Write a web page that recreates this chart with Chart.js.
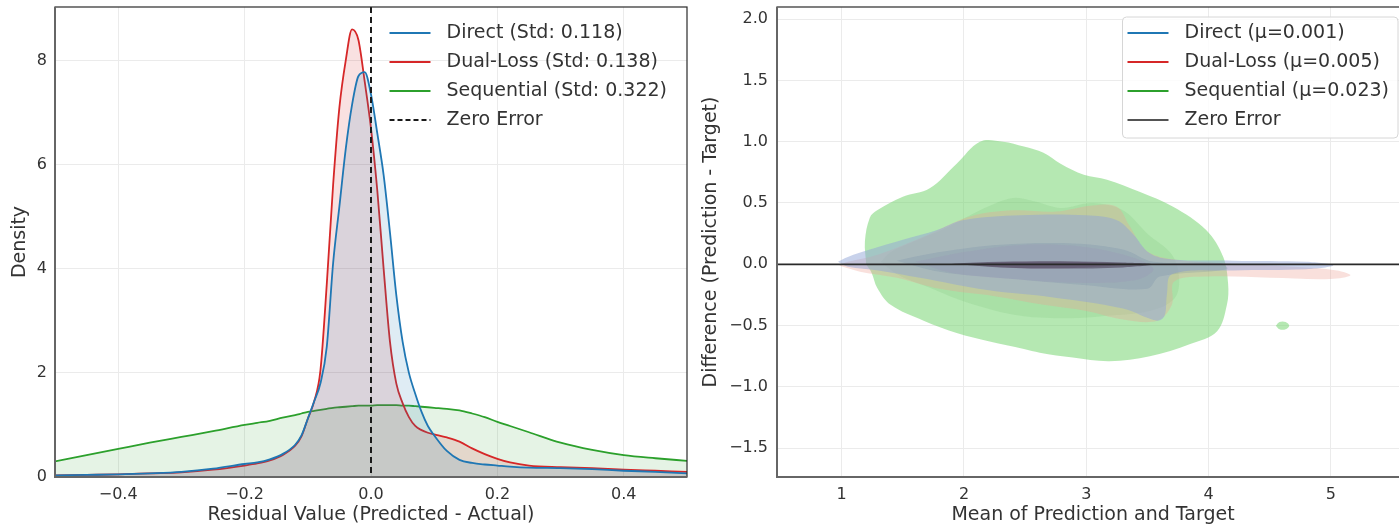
<!DOCTYPE html>
<html>
<head>
<meta charset="utf-8">
<script src="https://cdn.jsdelivr.net/npm/chart.js@4.4.1/dist/chart.umd.min.js"></script>
<style>
  html, body { margin: 0; padding: 0; background: #fff; overflow: hidden; }
  body { width: 1399px; height: 528px; position: relative; }
  #left { position: absolute; left: 0; top: 0; width: 695px; height: 528px; }
  #right { position: absolute; left: 695px; top: 0; width: 714px; height: 528px; }
</style>
</head>
<body>
<div id="left"><canvas id="kde_chart"></canvas></div>
<div id="right"><canvas id="diff_chart"></canvas></div>
<script>
// Left panel: residual densities
var residualGrid = [-0.5, -0.45, -0.4, -0.35, -0.3, -0.25, -0.2, -0.18, -0.16, -0.14, -0.12,
    -0.11, -0.1, -0.09, -0.08, -0.07, -0.06, -0.05, -0.04, -0.03, -0.02, -0.01, 0,
    0.01, 0.02, 0.03, 0.04, 0.05, 0.06, 0.07, 0.08, 0.09, 0.1,
    0.12, 0.14, 0.16, 0.18, 0.2, 0.22, 0.25, 0.3, 0.35, 0.4, 0.45, 0.5];
var directDensity = [0.03, 0.04, 0.05, 0.07, 0.10, 0.16, 0.25, 0.28, 0.34, 0.44, 0.62,
    0.80, 1.12, 1.45, 1.80, 2.50, 4.10, 5.20, 6.30, 7.15, 7.70, 7.78, 7.35,
    6.60, 5.80, 4.70, 3.50, 2.60, 2.00, 1.60, 1.25, 0.98, 0.80,
    0.50, 0.33, 0.27, 0.24, 0.22, 0.20, 0.18, 0.17, 0.15, 0.12, 0.10, 0.07];
var dualLossDensity = [0.03, 0.04, 0.05, 0.07, 0.09, 0.14, 0.22, 0.26, 0.32, 0.42, 0.60,
    0.78, 1.12, 1.45, 2.05, 3.70, 5.60, 7.10, 8.00, 8.60, 8.40, 7.60, 6.70,
    5.50, 4.00, 2.60, 1.80, 1.42, 1.15, 0.98, 0.90, 0.85, 0.82,
    0.76, 0.68, 0.55, 0.44, 0.35, 0.28, 0.22, 0.19, 0.17, 0.14, 0.12, 0.10];
var sequentialDensity = [0.30, 0.42, 0.54, 0.66, 0.77, 0.88, 1.00, 1.04, 1.08, 1.14, 1.19,
    1.22, 1.25, 1.27, 1.29, 1.31, 1.33, 1.34, 1.35, 1.36, 1.37, 1.37, 1.37,
    1.38, 1.38, 1.38, 1.38, 1.37, 1.37, 1.36, 1.35, 1.34, 1.33,
    1.31, 1.28, 1.22, 1.15, 1.06, 0.98, 0.86, 0.66, 0.52, 0.42, 0.36, 0.31];
var residualTicks = [-0.4, -0.2, 0, 0.2, 0.4];
var residualTickLabels = ['\u22120.4', '\u22120.2', '0.0', '0.2', '0.4'];
var densityTicks = [0, 2, 4, 6, 8];
var densityTickLabels = ['0', '2', '4', '6', '8'];
var residualRange = [-0.5, 0.5];
var densityRange = [0, 9.03];
var zeroError = 0;
var kdeLabels = ['Direct (Std: 0.118)', 'Dual-Loss (Std: 0.138)', 'Sequential (Std: 0.322)', 'Zero Error'];

// Right panel: density contours of difference vs mean, [mean, difference] outlines
var meanTicks = [1, 2, 3, 4, 5];
var meanTickLabels = ['1', '2', '3', '4', '5'];
var diffTicks = [-1.5, -1, -0.5, 0, 0.5, 1, 1.5, 2];
var diffTickLabels = ['\u22121.5', '\u22121.0', '\u22120.5', '0.0', '0.5', '1.0', '1.5', '2.0'];
var meanRange = [0.471, 5.639];
var diffRange = [-1.734, 2.098];
var diffLabels = ['Direct (\u03bc=0.001)', 'Dual-Loss (\u03bc=0.005)', 'Sequential (\u03bc=0.023)', 'Zero Error'];

var sequentialOuter = [[1.20, 0.00], [1.19, 0.19], [1.23, 0.38], [1.29, 0.44], [1.50, 0.55], [1.72, 0.62],
    [1.94, 0.82], [2.13, 1.00], [2.32, 1.00], [2.49, 0.96], [2.65, 0.91], [2.79, 0.82], [2.98, 0.73],
    [3.17, 0.69], [3.44, 0.59], [3.71, 0.47], [3.98, 0.28], [4.12, 0.06], [4.16, -0.16], [4.15, -0.33],
    [4.07, -0.545], [3.85, -0.65], [3.52, -0.75], [3.19, -0.79], [2.89, -0.76], [2.62, -0.72],
    [2.49, -0.69], [2.21, -0.63], [1.94, -0.56], [1.67, -0.46], [1.40, -0.33], [1.29, -0.19], [1.245, -0.07]];
var sequentialMid = [[1.32, 0.02], [1.40, 0.10], [1.55, 0.17], [1.86, 0.30], [2.13, 0.44], [2.40, 0.54],
    [2.59, 0.51], [2.79, 0.46], [3.05, 0.50], [3.30, 0.44], [3.50, 0.25], [3.70, 0.08], [3.76, -0.12],
    [3.72, -0.28], [3.52, -0.38], [3.17, -0.42], [2.87, -0.44], [2.46, -0.42], [2.05, -0.32],
    [1.72, -0.19], [1.45, -0.08]];
var sequentialSpot = [[4.55, -0.50], [4.58, -0.47], [4.63, -0.47], [4.66, -0.50], [4.63, -0.53], [4.58, -0.53]];

var dualLossOuter = [[0.98, -0.01], [1.05, 0.02], [1.30, 0.08], [1.70, 0.24], [2.05, 0.39], [2.40, 0.44],
    [2.75, 0.43], [3.05, 0.48], [3.25, 0.47], [3.35, 0.32], [3.48, 0.12], [3.65, 0.05], [4.10, 0.01],
    [4.70, -0.02], [5.05, -0.05], [5.16, -0.09], [5.00, -0.12], [4.50, -0.11], [4.00, -0.10],
    [3.72, -0.14], [3.70, -0.33], [3.58, -0.46], [3.30, -0.45], [3.00, -0.38], [2.65, -0.33],
    [2.25, -0.26], [1.80, -0.20], [1.45, -0.11], [1.15, -0.06]];
var dualLossMid = [[1.60, 0.02], [2.00, 0.10], [2.50, 0.16], [3.00, 0.14], [3.40, 0.05], [3.55, -0.04],
    [3.40, -0.13], [2.90, -0.15], [2.40, -0.12], [1.90, -0.07]];
var dualLossCore = [[2.00, 0.00], [2.40, 0.02], [2.90, 0.02], [3.30, 0.00], [2.90, -0.03], [2.40, -0.03]];

var directOuter = [[0.97, 0.02], [1.05, 0.06], [1.23, 0.12], [1.50, 0.20], [1.78, 0.28], [1.99, 0.36],
    [2.46, 0.40], [3.00, 0.40], [3.25, 0.36], [3.38, 0.25], [3.52, 0.09], [3.70, 0.04], [4.20, 0.03],
    [4.80, 0.02], [5.02, -0.01], [4.80, -0.04], [4.20, -0.05], [3.70, -0.08], [3.66, -0.24],
    [3.64, -0.42], [3.58, -0.46], [3.30, -0.36], [2.73, -0.27], [2.19, -0.21], [1.64, -0.11],
    [1.30, -0.05], [1.05, -0.02]];
var directMid = [[1.45, 0.03], [1.80, 0.10], [2.30, 0.16], [2.90, 0.17], [3.30, 0.12], [3.55, 0.02],
    [4.10, 0.01], [4.15, -0.04], [3.60, -0.10], [3.50, -0.20], [3.00, -0.17], [2.40, -0.12], [1.80, -0.06]];
var directCore = [[1.90, 0.005], [2.30, 0.02], [2.80, 0.025], [3.30, 0.015], [3.55, 0.00], [3.30, -0.025],
    [2.80, -0.035], [2.30, -0.025]];

var BLUE = '#1f77b4', RED = '#d62728', GREEN = '#2ca02c';
var TEXT = '#333333';
Chart.defaults.font.family = "'DejaVu Sans', sans-serif";
Chart.defaults.color = TEXT;

function kdePoints(values) {
    return residualGrid.map(function (x, i) { return { x: x, y: values[i] }; });
}

function outline(pairs) {
    return pairs.concat([pairs[0]]).map(function (p) { return { x: p[0], y: p[1] }; });
}

function fixedTicks(values) {
    return function (scale) {
        scale.ticks = values.map(function (v) { return { value: v }; });
    };
}

// Axes frame: dark thin box, grey left/bottom spines
var framePlugin = {
    id: 'frame',
    afterDatasetsDraw: function (chart) {
        var a = chart.chartArea, ctx = chart.ctx;
        ctx.save();
        ctx.strokeStyle = '#2a2a2a';
        ctx.lineWidth = 1.2;
        ctx.strokeRect(a.left, a.top, a.right - a.left, a.bottom - a.top);
        ctx.strokeStyle = '#666666';
        ctx.lineWidth = 2;
        ctx.beginPath();
        ctx.moveTo(a.left, a.top);
        ctx.lineTo(a.left, a.bottom);
        ctx.lineTo(a.right, a.bottom);
        ctx.stroke();
        ctx.restore();
    }
};

function zeroLinePlugin(axis, color, width, dash) {
    return {
        id: 'zeroLine',
        afterDatasetsDraw: function (chart) {
            var a = chart.chartArea, ctx = chart.ctx;
            ctx.save();
            ctx.strokeStyle = color;
            ctx.lineWidth = width;
            ctx.setLineDash(dash);
            ctx.beginPath();
            if (axis === 'x') {
                var px = chart.scales.x.getPixelForValue(zeroError);
                ctx.moveTo(px, a.top);
                ctx.lineTo(px, a.bottom);
            } else {
                var py = chart.scales.y.getPixelForValue(zeroError);
                ctx.moveTo(a.left, py);
                ctx.lineTo(a.right, py);
            }
            ctx.stroke();
            ctx.restore();
        }
    };
}

// Legend placed inside the plot, top right
function insideLegend(items, boxed) {
    return {
        id: 'insideLegend',
        afterDraw: function (chart) {
            var a = chart.chartArea, ctx = chart.ctx;
            ctx.save();
            ctx.font = "19px 'DejaVu Sans'";
            var maxW = 0;
            items.forEach(function (it) { maxW = Math.max(maxW, ctx.measureText(it.label).width); });
            var textX = a.right - 20 - maxW;
            if (boxed) {
                ctx.fillStyle = 'rgba(255,255,255,0.85)';
                ctx.strokeStyle = '#d6d6d6';
                ctx.lineWidth = 1;
                ctx.beginPath();
                ctx.roundRect(textX - 62, a.top + 10, maxW + 62 + 9, 121, 4);
                ctx.fill();
                ctx.stroke();
            }
            items.forEach(function (it, i) {
                var y = a.top + 26 + i * 29;
                ctx.strokeStyle = it.color;
                ctx.lineWidth = it.width;
                ctx.setLineDash(it.dash || []);
                ctx.beginPath();
                ctx.moveTo(textX - 57, y);
                ctx.lineTo(textX - 16, y);
                ctx.stroke();
                ctx.setLineDash([]);
                ctx.fillStyle = TEXT;
                ctx.textBaseline = 'middle';
                ctx.textAlign = 'left';
                ctx.fillText(it.label, textX, y);
            });
            ctx.restore();
        }
    };
}

function axisOptions(range, ticks, labels, title, isX, fitSize, titlePad, tickPad) {
    return {
        type: 'linear',
        min: range[0],
        max: range[1],
        afterBuildTicks: fixedTicks(ticks),
        afterFit: function (scale) {
            if (isX) { scale.height = fitSize; } else { scale.width = fitSize; }
            // no extra room for half labels at the ends
            scale.paddingTop = 0;
            scale.paddingBottom = 0;
            scale.paddingLeft = 0;
            scale.paddingRight = 0;
        },
        ticks: {
            autoSkip: false,
            maxRotation: 0,
            padding: tickPad,
            font: { size: 16 },
            color: TEXT,
            callback: function (value, index) { return labels[index]; }
        },
        grid: { color: '#ebebeb', lineWidth: 1, drawTicks: false },
        border: { display: false },
        title: {
            display: true,
            text: title,
            color: TEXT,
            font: { size: 19 },
            padding: titlePad
        }
    };
}

function drawKdeGraph() {
    var ctx = document.getElementById('kde_chart').getContext('2d');
    var series = [
        { label: kdeLabels[0], values: directDensity, color: BLUE, fill: 'rgba(31,119,180,0.14)' },
        { label: kdeLabels[1], values: dualLossDensity, color: RED, fill: 'rgba(214,39,40,0.14)' },
        { label: kdeLabels[2], values: sequentialDensity, color: GREEN, fill: 'rgba(44,160,44,0.12)' }
    ];
    new Chart(ctx, {
        type: 'line',
        data: {
            datasets: series.map(function (s) {
                return {
                    label: s.label,
                    data: kdePoints(s.values),
                    borderColor: s.color,
                    backgroundColor: s.fill,
                    borderWidth: 1.8,
                    pointRadius: 0,
                    fill: 'origin',
                    cubicInterpolationMode: 'monotone'
                };
            })
        },
        options: {
            responsive: true,
            maintainAspectRatio: false,
            animation: false,
            layout: { padding: { top: 7, right: 8, left: 0, bottom: 0 } },
            scales: {
                x: axisOptions(residualRange, residualTicks, residualTickLabels,
                    'Residual Value (Predicted - Actual)', true, 51, { top: 0, bottom: 2 }, 8),
                y: axisOptions(densityRange, densityTicks, densityTickLabels,
                    'Density', false, 55, { top: 9, bottom: 0 }, 8)
            },
            plugins: {
                legend: { display: false },
                tooltip: { enabled: false }
            }
        },
        plugins: [
            zeroLinePlugin('x', '#1a1a1a', 2, [6, 4]),
            framePlugin,
            insideLegend([
                { label: kdeLabels[0], color: BLUE, width: 2 },
                { label: kdeLabels[1], color: RED, width: 2 },
                { label: kdeLabels[2], color: GREEN, width: 2 },
                { label: kdeLabels[3], color: '#1a1a1a', width: 2, dash: [5, 3] }
            ], false)
        ]
    });
}

function drawDiffGraph() {
    var ctx = document.getElementById('diff_chart').getContext('2d');
    // listed top-most first: Chart.js paints the first dataset last
    var regions = [
        { data: directCore, color: 'rgba(60,45,70,0.50)' },
        { data: directMid, color: 'rgba(100,125,160,0.20)' },
        { data: directOuter, color: 'rgba(145,165,215,0.50)' },
        { data: dualLossCore, color: 'rgba(130,60,70,0.40)' },
        { data: dualLossMid, color: 'rgba(190,130,150,0.22)' },
        { data: dualLossOuter, color: 'rgba(235,160,145,0.32)' },
        { data: sequentialSpot, color: 'rgba(120,214,115,0.55)' },
        { data: sequentialMid, color: 'rgba(80,170,80,0.12)' },
        { data: sequentialOuter, color: 'rgba(120,214,115,0.55)' }
    ];
    new Chart(ctx, {
        type: 'line',
        data: {
            datasets: regions.map(function (r) {
                return {
                    data: outline(r.data),
                    borderColor: 'transparent',
                    backgroundColor: r.color,
                    borderWidth: 0,
                    pointRadius: 0,
                    fill: 'shape',
                    tension: 0.35
                };
            })
        },
        options: {
            responsive: true,
            maintainAspectRatio: false,
            animation: false,
            layout: { padding: { top: 7, right: 0, left: 0, bottom: 0 } },
            scales: {
                x: axisOptions(meanRange, meanTicks, meanTickLabels,
                    'Mean of Prediction and Target', true, 51, { top: 0, bottom: 2 }, 8),
                y: axisOptions(diffRange, diffTicks, diffTickLabels,
                    'Difference (Prediction - Target)', false, 82, { top: 5, bottom: 0 }, 9)
            },
            plugins: {
                legend: { display: false },
                tooltip: { enabled: false }
            }
        },
        plugins: [
            zeroLinePlugin('y', '#2a2a2a', 1.8, []),
            framePlugin,
            insideLegend([
                { label: diffLabels[0], color: BLUE, width: 2 },
                { label: diffLabels[1], color: RED, width: 2 },
                { label: diffLabels[2], color: GREEN, width: 2 },
                { label: diffLabels[3], color: '#1a1a1a', width: 1.5 }
            ], true)
        ]
    });
}

drawKdeGraph();
drawDiffGraph();
</script>
</body>
</html>
